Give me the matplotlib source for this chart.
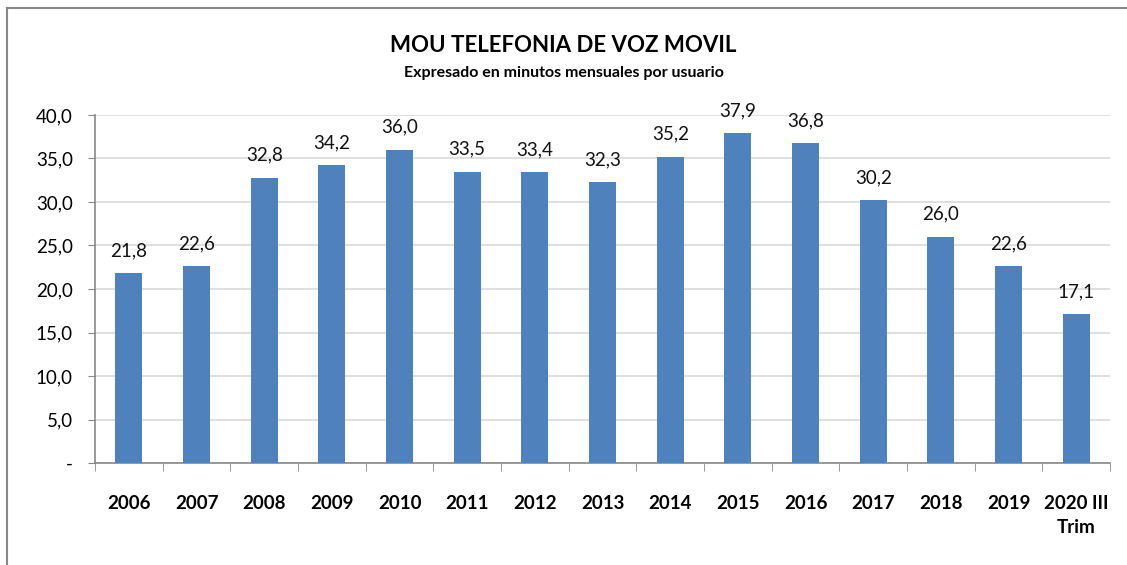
import numpy as np
import matplotlib.pyplot as plt
from matplotlib.lines import Line2D

years = ['2006', '2007', '2008', '2009', '2010', '2011', '2012', '2013',
         '2014', '2015', '2016', '2017', '2018', '2019', '2020 III\nTrim']
mou = [21.8, 22.6, 32.8, 34.2, 36.0, 33.5, 33.4, 32.3,
       35.2, 37.9, 36.8, 30.2, 26.0, 22.6, 17.1]
yticks = [0, 5, 10, 15, 20, 25, 30, 35, 40]
ytick_labels = ['-', '5,0', '10,0', '15,0', '20,0', '25,0', '30,0', '35,0', '40,0']

plt.rcParams['font.family'] = ['Lato', 'DejaVu Sans']

fig = plt.figure(figsize=(11.27, 5.65), dpi=100)
ax = fig.add_axes([0.0843, 0.1805, 0.9007, 0.616])

x = np.arange(len(years))
ax.bar(x, mou, width=0.4, color='#4F81BD', zorder=3)
for xi, v in zip(x, mou):
    ax.text(xi, v + 1.6, f'{v:.1f}'.replace('.', ','), ha='center', va='bottom',
            fontsize=13.5, color='#111111')

ax.set_xlim(-0.5, len(years) - 0.5)
ax.set_ylim(0, 40)
ax.set_yticks(yticks)
ax.set_yticklabels(ytick_labels, fontsize=13.5)
ax.set_xticks(x)
ax.set_xticklabels(years, fontsize=13.5, fontweight='bold', linespacing=1.5)
ax.set_xticks(np.arange(-0.5, len(years)), minor=True)
ax.tick_params(axis='x', which='major', length=0, pad=23)
ax.tick_params(axis='x', which='minor', length=6, color='#888888', direction='out')
ax.tick_params(axis='y', length=5, color='#888888', pad=11)
ax.yaxis.grid(True, color='#D9D9D9', linewidth=1.2, zorder=0)
for s in ['top', 'right']:
    ax.spines[s].set_visible(False)
for s in ['left', 'bottom']:
    ax.spines[s].set_color('#888888')
    ax.spines[s].set_linewidth(1.2)

fig.text(0.5, 0.92, 'MOU TELEFONIA DE VOZ MOVIL', ha='center', va='center',
         fontsize=16, fontweight='bold')
fig.text(0.5, 0.871, 'Expresado en minutos mensuales por usuario', ha='center',
         va='center', fontsize=11.5, fontweight='bold')

# chart frame (top and left edges visible)
fig.add_artist(Line2D([0.0062, 0.0062], [0, 0.986], color='#888888', lw=1.5,
                      transform=fig.transFigure))
fig.add_artist(Line2D([0.0062, 1], [0.986, 0.986], color='#888888', lw=1.5,
                      transform=fig.transFigure))

fig.savefig('out.png', dpi=100)
